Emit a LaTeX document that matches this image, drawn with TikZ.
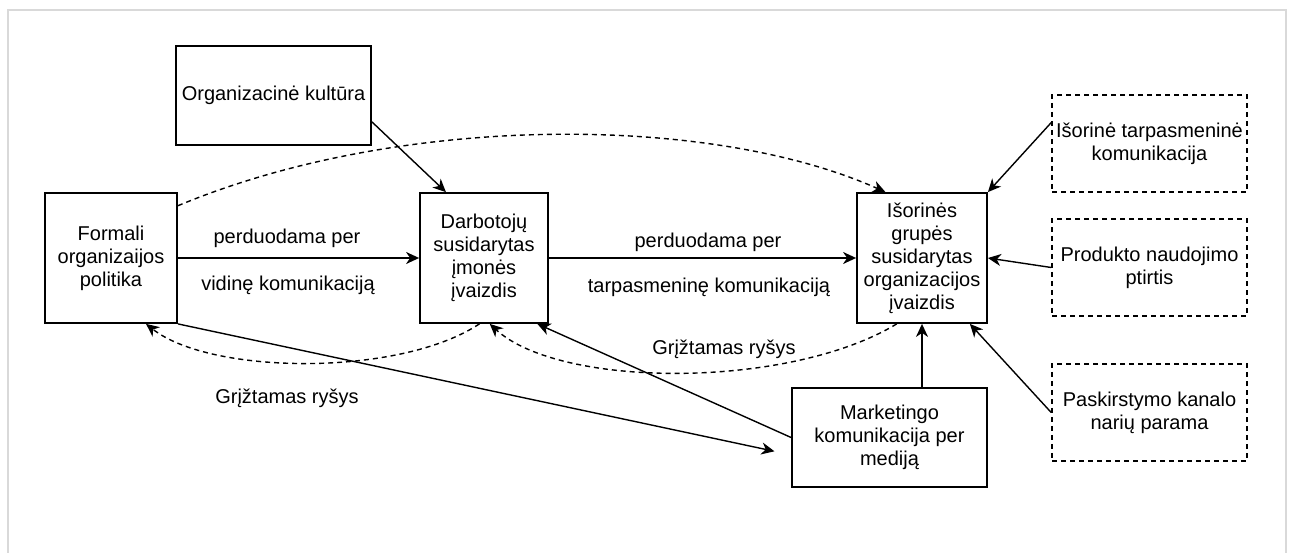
\documentclass[tikz,border=0pt]{standalone}
\usepackage{fontspec}
\setmainfont{Liberation Sans}
\usetikzlibrary{arrows.meta,positioning,calc}

\begin{document}
\begin{tikzpicture}[x=1pt,y=-1pt,>=Stealth,
    font=\fontsize{20}{23}\selectfont,
    blokas/.style={draw,line width=1.8pt,align=center,inner sep=2pt},
    isorinis/.style={blokas,line width=1.6pt,dash pattern=on 5pt off 4pt},
    rodykle/.style={line width=1.4pt,-{Stealth[length=13pt,width=12pt,inset=4pt]}},
    grizt/.style={rodykle,dash pattern=on 5pt off 4pt},
    uzrasas/.style={inner sep=1pt}]

  \useasboundingbox (0,0) rectangle (1291,553);
  \draw[black!15,line width=2pt] (8,553) -- (8,10) -- (1286,10) -- (1286,553);

  %================= Blokai =================

  % ---- vidiniai veiksniai ----
  \node[blokas,minimum width=195pt,minimum height=99pt] (kultura) at (273.5,95.5) {Organizacinė kultūra};
  \node[blokas,minimum width=132pt,minimum height=130pt] (politika) at (111,258) {Formali\\organizaijos\\politika};
  \node[blokas,minimum width=128pt,minimum height=130pt] (darbuotoju) at (484,258) {Darbotojų\\susidarytas\\įmonės\\įvaizdis};
  \node[blokas,minimum width=130pt,minimum height=130pt] (isorines) at (922,258) {Išorinės\\grupės\\susidarytas\\organizacijos\\įvaizdis};
  \node[blokas,minimum width=195pt,minimum height=99pt] (marketingas) at (889.5,437.5) {Marketingo\\komunikacija per\\mediją};

  % ---- išoriniai veiksniai (punktyru) ----
  \node[isorinis,minimum width=195pt,minimum height=97pt] (tarpasm) at (1149.5,143.5) {Išorinė tarpasmeninė\\komunikacija};
  \node[isorinis,minimum width=195pt,minimum height=97pt] (produktas) at (1149.5,267.5) {Produkto naudojimo\\ptirtis};
  \node[isorinis,minimum width=195pt,minimum height=97pt] (paskirstymas) at (1149.5,412.5) {Paskirstymo kanalo\\narių parama};

  %================= Rodyklės =================

  \draw[rodykle] (kultura.-15) -- (darbuotoju.120);
  \draw[rodykle] (politika) -- (darbuotoju);
  \draw[rodykle] (darbuotoju) -- (isorines);
  \draw[grizt] (politika.38) .. controls +(223,-93) and +(-174,-78) .. (isorines.119);

  \draw[rodykle] (tarpasm.168) -- (isorines.north east);
  \draw[rodykle] (produktas.west) -- (isorines.east);
  \draw[rodykle] (paskirstymas.west) -- (isorines.-54);

  \draw[rodykle] (marketingas.north -| isorines.south) -- (isorines.south);
  \draw[rodykle] (marketingas.west) -- (darbuotoju.-51);
  \draw[rodykle,shorten >=17pt] (politika.south east) -- (marketingas.190);

  % grįžtamasis ryšys
  \draw[grizt] (darbuotoju.-94) .. controls +(-80,53) and +(65,51) .. (politika.-62);
  \draw[grizt] (isorines.-111) .. controls +(-107,65) and +(71,65) .. (darbuotoju.-85);

  %================= Užrašai =================
  \node[uzrasas] (per1) at (287,238) {perduodama per};
  \node[uzrasas] (vidine) at (288,285) {vidinę komunikaciją};
  \node[uzrasas] (per2) at (708,242) {perduodama per};
  \node[uzrasas] (tarpasmenine) at (709,287) {tarpasmeninę komunikaciją};
  \node[uzrasas] (grizt1) at (287,398) {Grįžtamas ryšys};
  \node[uzrasas] (grizt2) at (724,349) {Grįžtamas ryšys};

\end{tikzpicture}
\end{document}
